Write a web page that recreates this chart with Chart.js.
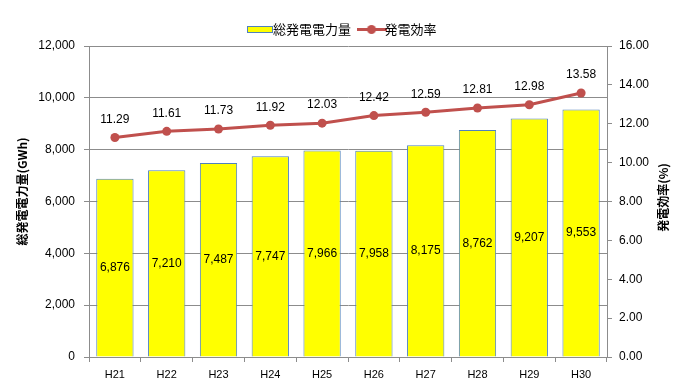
<!DOCTYPE html>
<html>
<head>
<meta charset="utf-8">
<script src="https://cdn.jsdelivr.net/npm/chart.js@4.4.1/dist/chart.umd.min.js"></script>
<style>
  html, body { margin: 0; padding: 0; background: #fff; }
  #wrap { width: 690px; height: 389px; }
</style>
</head>
<body>
<div id="wrap"><canvas id="chart"></canvas></div>
<script>
// data
const years = ['H21', 'H22', 'H23', 'H24', 'H25', 'H26', 'H27', 'H28', 'H29', 'H30'];
const generation = [6876, 7210, 7487, 7747, 7966, 7958, 8175, 8762, 9207, 9553];
const efficiency = [11.29, 11.61, 11.73, 11.92, 12.03, 12.42, 12.59, 12.81, 12.98, 13.58];
const leftAxis = { min: 0, max: 12000, step: 2000 };
const rightAxis = { min: 0, max: 16, step: 2 };
const seriesNames = ['総発電電力量', '発電効率'];
const axisTitles = ['総発電電力量(GWh)', '発電効率(%)'];

const JP = '"Noto Sans CJK JP", sans-serif';
const NUM = '"Liberation Sans", Arial, sans-serif';
const lineColor = '#C0504D';
const gridColor = '#8c8c8c';

// little legend icons
function barIcon() {
    const c = document.createElement('canvas');
    c.width = 28; c.height = 9;
    const g = c.getContext('2d');
    g.fillStyle = '#FFFF00';
    g.fillRect(1, 1, 26, 7);
    g.strokeStyle = '#4F81BD';
    g.lineWidth = 1;
    g.strokeRect(1.5, 1.5, 25, 6);
    return c;
}
function lineIcon() {
    const c = document.createElement('canvas');
    c.width = 30; c.height = 11;
    const g = c.getContext('2d');
    g.strokeStyle = lineColor;
    g.lineWidth = 3;
    g.beginPath(); g.moveTo(0, 5.5); g.lineTo(30, 5.5); g.stroke();
    g.fillStyle = lineColor;
    g.beginPath(); g.arc(15, 5.5, 4.5, 0, Math.PI * 2); g.fill();
    return c;
}

const valueLabels = {
    id: 'valueLabels',
    afterDatasetsDraw(chart) {
        const ctx = chart.ctx;
        ctx.save();
        ctx.fillStyle = '#000';
        ctx.font = '12px ' + NUM;
        ctx.textAlign = 'center';
        ctx.textBaseline = 'middle';
        chart.getDatasetMeta(1).data.forEach((bar, i) => {
            const mid = (bar.y + bar.base) / 2;
            ctx.fillText(generation[i].toLocaleString('en-US'), bar.x, mid);
        });
        chart.getDatasetMeta(0).data.forEach((pt, i) => {
            ctx.fillText(efficiency[i].toFixed(2), pt.x, pt.y - 18);
        });
        ctx.restore();
    }
};

const axisTitleDraw = {
    id: 'axisTitleDraw',
    afterDraw(chart) {
        const ctx = chart.ctx;
        const area = chart.chartArea;
        const cy = (area.top + area.bottom) / 2;
        ctx.save();
        ctx.fillStyle = '#000';
        ctx.font = 'bold 12px ' + JP;
        ctx.textAlign = 'center';
        ctx.textBaseline = 'middle';
        ctx.translate(22, cy - 10);
        ctx.rotate(-Math.PI / 2);
        ctx.fillText(axisTitles[0], 0, 0);
        ctx.restore();

        ctx.save();
        ctx.fillStyle = '#000';
        ctx.font = 'bold 12px ' + JP;
        ctx.textAlign = 'center';
        ctx.textBaseline = 'middle';
        ctx.translate(663, cy - 4);
        ctx.rotate(-Math.PI / 2);
        ctx.fillText(axisTitles[1], 0, 0);
        ctx.restore();
    }
};

new Chart(document.getElementById('chart').getContext('2d'), {
    data: {
        labels: years,
        datasets: [
            {
                type: 'line',
                label: seriesNames[1],
                data: efficiency,
                yAxisID: 'y2',
                borderColor: lineColor,
                backgroundColor: lineColor,
                borderWidth: 3,
                pointRadius: 4.5,
                pointHoverRadius: 4.5,
                pointBackgroundColor: lineColor,
                pointBorderWidth: 0,
                tension: 0,
                order: 0
            },
            {
                type: 'bar',
                label: seriesNames[0],
                data: generation,
                yAxisID: 'y',
                backgroundColor: '#FFFF00',
                borderColor: '#4F81BD',
                borderWidth: 1,
                categoryPercentage: 1.0,
                barPercentage: 0.72,
                order: 1
            }
        ]
    },
    options: {
        responsive: true,
        maintainAspectRatio: false,
        animation: false,
        layout: { padding: { top: 9, left: 0, right: 0, bottom: 0 } },
        plugins: {
            legend: {
                position: 'top',
                labels: {
                    usePointStyle: true,
                    font: { family: JP, size: 13 },
                    color: '#000',
                    padding: 14,
                    generateLabels(chart) {
                        return [
                            { text: seriesNames[0], pointStyle: barIcon(), datasetIndex: 1, fontColor: '#000', lineWidth: 0 },
                            { text: seriesNames[1], pointStyle: lineIcon(), datasetIndex: 0, fontColor: '#000', lineWidth: 0 }
                        ];
                    }
                }
            },
            tooltip: { enabled: false }
        },
        scales: {
            x: {
                offset: true,
                grid: {
                    display: true,
                    drawOnChartArea: false,
                    offset: true,
                    tickLength: 5,
                    color: gridColor
                },
                border: { color: gridColor },
                ticks: { font: { family: NUM, size: 11 }, color: '#000', padding: 6 },
                afterFit(s) { s.height = 32; }
            },
            y: {
                position: 'left',
                min: leftAxis.min,
                max: leftAxis.max,
                ticks: {
                    stepSize: leftAxis.step,
                    font: { family: NUM, size: 12 },
                    color: '#000',
                    padding: 9,
                    callback: v => v.toLocaleString('en-US')
                },
                grid: { color: gridColor, tickLength: 5 },
                border: { color: gridColor },
                afterFit(s) { s.width = 89; }
            },
            y2: {
                position: 'right',
                min: rightAxis.min,
                max: rightAxis.max,
                ticks: {
                    stepSize: rightAxis.step,
                    font: { family: NUM, size: 12 },
                    color: '#000',
                    padding: 7,
                    callback: v => v.toFixed(2)
                },
                grid: { drawOnChartArea: false, color: gridColor, tickLength: 5 },
                border: { color: gridColor },
                afterFit(s) { s.width = 83; }
            }
        }
    },
    plugins: [valueLabels, axisTitleDraw]
});
</script>
</body>
</html>
